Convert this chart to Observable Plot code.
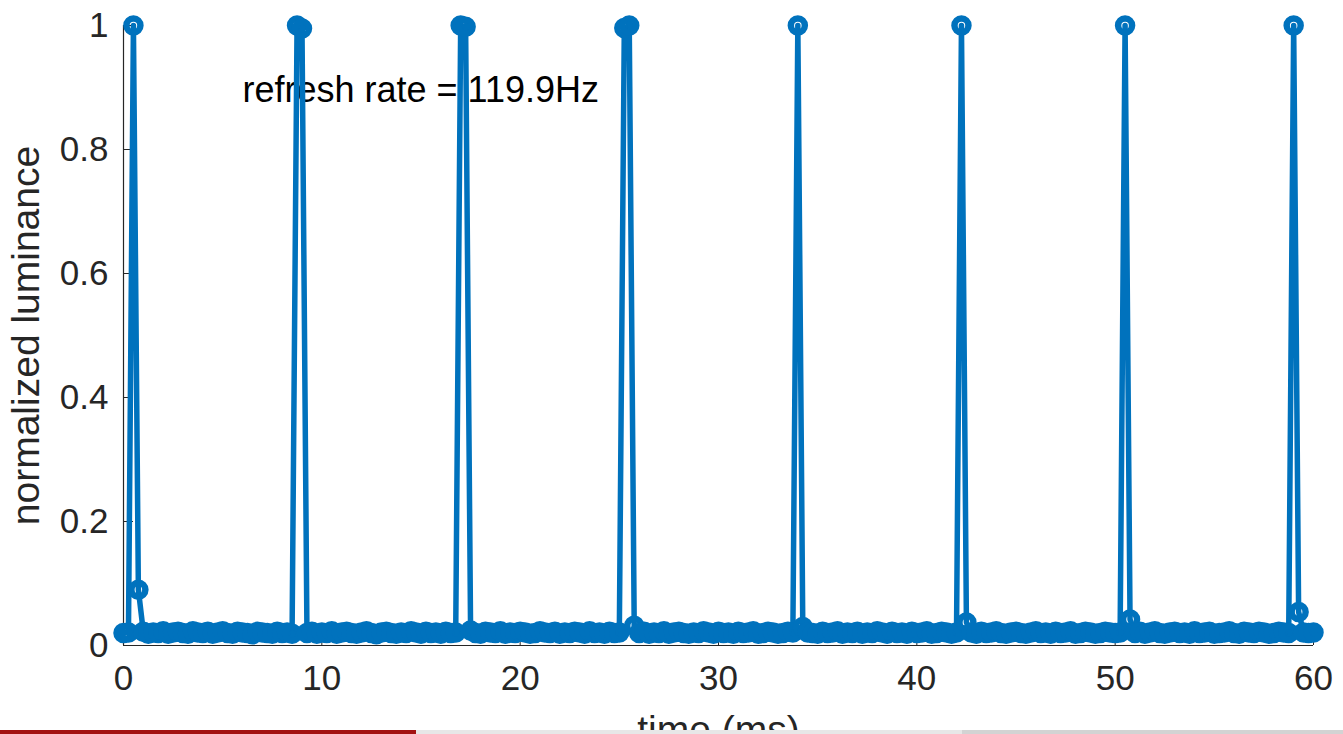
<!DOCTYPE html>
<html><head><meta charset="utf-8">
<script src="https://cdn.jsdelivr.net/npm/d3@7"></script>
<script src="https://cdn.jsdelivr.net/npm/@observablehq/plot@0.6"></script>
<style>
html,body{margin:0;padding:0;background:#fff;overflow:hidden;width:1343px;height:734px;}
#chart{position:absolute;left:0;top:0;}
#chart [aria-label="y-axis label"], #chart [aria-label="x-axis label"]{font-size:39px;}
.bar{position:absolute;bottom:0;height:4px;}
</style></head><body>
<div id="chart"></div>
<div class="bar" style="left:0;width:416px;background:#a31212"></div>
<div class="bar" style="left:416px;width:546px;background:#e7e7e7"></div>
<div class="bar" style="left:962px;width:381px;background:#d3d3d3"></div>
<script>
// sampling interval of the luminance recording (ms)
const sampleInterval = 0.25;
// normalized luminance samples, one per sampleInterval, from t = 0 to 60 ms
const luminance = [
  0.020, 0.021, 1.000, 0.090, 0.022, 0.019, 0.021, 0.020, 0.023, 0.019,
  0.021, 0.022, 0.020, 0.019, 0.023, 0.021, 0.020, 0.022, 0.019, 0.021,
  0.023, 0.020, 0.019, 0.022, 0.021, 0.020, 0.018, 0.022, 0.021, 0.020,
  0.019, 0.022, 0.020, 0.021, 0.019, 1.000, 0.995, 0.020, 0.022, 0.019,
  0.021, 0.020, 0.023, 0.019, 0.021, 0.022, 0.020, 0.019, 0.021, 0.023,
  0.020, 0.018, 0.021, 0.022, 0.020, 0.019, 0.021, 0.020, 0.023, 0.021,
  0.019, 0.022, 0.020, 0.021, 0.019, 0.022, 0.020, 0.021, 1.000, 0.998,
  0.024, 0.020, 0.019, 0.022, 0.021, 0.020, 0.023, 0.019, 0.021, 0.020,
  0.022, 0.021, 0.019, 0.020, 0.023, 0.021, 0.020, 0.022, 0.019, 0.021,
  0.020, 0.022, 0.021, 0.019, 0.023, 0.020, 0.021, 0.019, 0.022, 0.020,
  0.021, 0.996, 1.000, 0.032, 0.020, 0.022, 0.019, 0.021, 0.020, 0.023,
  0.019, 0.021, 0.022, 0.020, 0.019, 0.021, 0.020, 0.023, 0.021, 0.019,
  0.022, 0.020, 0.021, 0.019, 0.022, 0.020, 0.021, 0.023, 0.019, 0.020,
  0.022, 0.021, 0.019, 0.020, 0.022, 0.021, 1.000, 0.030, 0.021, 0.020,
  0.019, 0.022, 0.020, 0.021, 0.023, 0.019, 0.021, 0.020, 0.022, 0.019,
  0.021, 0.020, 0.023, 0.021, 0.019, 0.022, 0.020, 0.021, 0.019, 0.022,
  0.020, 0.021, 0.023, 0.019, 0.020, 0.022, 0.021, 0.019, 0.021, 1.000,
  0.037, 0.021, 0.019, 0.022, 0.020, 0.021, 0.023, 0.020, 0.019, 0.021,
  0.022, 0.020, 0.019, 0.021, 0.023, 0.020, 0.021, 0.019, 0.022, 0.020,
  0.021, 0.023, 0.019, 0.020, 0.022, 0.021, 0.019, 0.020, 0.022, 0.021,
  0.020, 0.021, 1.000, 0.042, 0.020, 0.022, 0.019, 0.021, 0.023, 0.020,
  0.019, 0.021, 0.022, 0.020, 0.021, 0.019, 0.023, 0.020, 0.021, 0.022,
  0.019, 0.020, 0.021, 0.023, 0.020, 0.019, 0.022, 0.021, 0.020, 0.022,
  0.021, 0.019, 0.020, 0.022, 0.021, 0.020, 1.000, 0.054, 0.021, 0.020,
  0.021
];
const xTicks = [0, 10, 20, 30, 40, 50, 60];
const yTicks = [0, 0.2, 0.4, 0.6, 0.8, 1];
const annotationText = ["refresh rate = 119.9Hz"];
const annotationTime = 6;
const annotationValue = 0.895;

const samples = luminance.map((v, i) => ({time: i * sampleInterval, value: v}));

const W = 1343, H = 760;
const margin = {top: 25, right: 30, bottom: 115, left: 123};
const innerW = W - margin.left - margin.right;
const innerH = H - margin.top - margin.bottom;
const blue = "#0072BD", ink = "#262626";

const chart = Plot.plot({
  width: W, height: H,
  marginTop: margin.top, marginRight: margin.right, marginBottom: margin.bottom, marginLeft: margin.left,
  style: {fontFamily: '"Liberation Sans", Arial, Helvetica, sans-serif', fontSize: "35px", color: ink, background: "#fff", overflow: "visible"},
  x: {domain: [0, 60]},
  y: {domain: [0, 1]},
  marks: [
    Plot.axisY({ticks: yTicks, tickFormat: d => String(d), tickSize: 0, tickPadding: 15,
      label: "normalized luminance", labelArrow: "none", labelAnchor: "center", labelOffset: 112, fontSize: 35}),
    Plot.axisX({ticks: xTicks, tickFormat: d => String(d), tickSize: 0, tickPadding: 20,
      label: "time (ms)", labelArrow: "none", labelAnchor: "center", labelOffset: 97, fontSize: 35}),
    Plot.tickY(yTicks, {y: d => d, stroke: ink, strokeWidth: 1, insetRight: innerW - 10}),
    Plot.tickX(xTicks, {x: d => d, stroke: ink, strokeWidth: 1, insetTop: innerH - 10}),
    Plot.ruleX([0], {stroke: ink, strokeWidth: 1.2}),
    Plot.ruleY([0], {stroke: ink, strokeWidth: 1.2}),
    Plot.text(annotationText, {x: () => annotationTime, y: () => annotationValue, text: d => d,
      textAnchor: "start", lineAnchor: "middle", fill: "#000", fontSize: 36}),
    Plot.line(samples, {x: "time", y: "value", stroke: blue, strokeWidth: 5.5, strokeLinejoin: "round"}),
    Plot.dot(samples, {x: "time", y: "value", r: 7, stroke: blue, strokeWidth: 6.5, fill: "none"})
  ]
});
document.getElementById("chart").appendChild(chart);
</script>
</body></html>
